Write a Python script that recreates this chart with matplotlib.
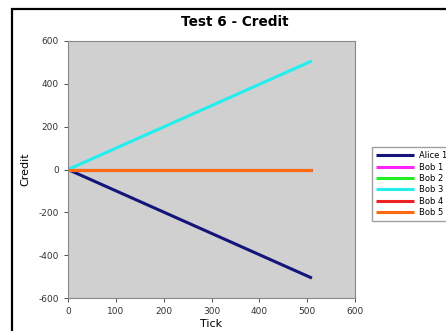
import matplotlib
matplotlib.use('Agg')
import matplotlib.pyplot as plt
from matplotlib.patches import Rectangle

plt.rcParams['axes.unicode_minus'] = False

# series: start/end tick and credit
names = ['Alice 1', 'Bob 1', 'Bob 2', 'Bob 3', 'Bob 4', 'Bob 5']
colors = ['#14147a', '#ff22ff', '#22ee22', '#22eeee', '#ee2222', '#ff6a10']
ticks = [0, 510]
credit = {
    'Alice 1': [0, -507],
    'Bob 1': [0, 0],
    'Bob 2': [0, 0],
    'Bob 3': [0, 507],
    'Bob 4': [0, 0],
    'Bob 5': [0, 0],
}

fig = plt.figure(figsize=(4.46, 3.31), dpi=100)
fig.patch.set_facecolor('white')
# border of the original (cropped) figure window
fig.patches.append(Rectangle((12 / 446, -0.2), 1.5, 1.2 - 9 / 331, transform=fig.transFigure,
                             fill=False, edgecolor='black', linewidth=1.6))

ax = fig.add_axes([68 / 446, 1 - 298 / 331, 287 / 446, 257 / 331])
ax.set_facecolor('#d0d0d0')
for n, c in zip(names, colors):
    ax.plot(ticks, credit[n], color=c, linewidth=2.2, label=n, solid_capstyle='butt')

ax.set_xlim(0, 600)
ax.set_ylim(-600, 600)
ax.set_xticks(range(0, 601, 100))
ax.set_yticks(range(-600, 601, 200))
ax.tick_params(labelsize=6.5, colors='#333333', length=3, width=0.6)
for s in ax.spines.values():
    s.set_color('#888888')
ax.set_xlabel('Tick', fontsize=8, labelpad=2)
ax.set_ylabel('Credit', fontsize=8, labelpad=6)

fig.text(235 / 446, 1 - 22 / 331, 'Test 6 - Credit', ha='center', va='center',
         fontsize=9.8, fontweight='bold')

fig.legend(loc='upper left', bbox_to_anchor=(372 / 446, 1 - 147 / 331), fontsize=6,
           frameon=True, fancybox=False, edgecolor='#888888', handlelength=4.5,
           labelspacing=0.28, borderpad=0.5, handletextpad=0.6, borderaxespad=0)

fig.savefig('out.png', dpi=100)
